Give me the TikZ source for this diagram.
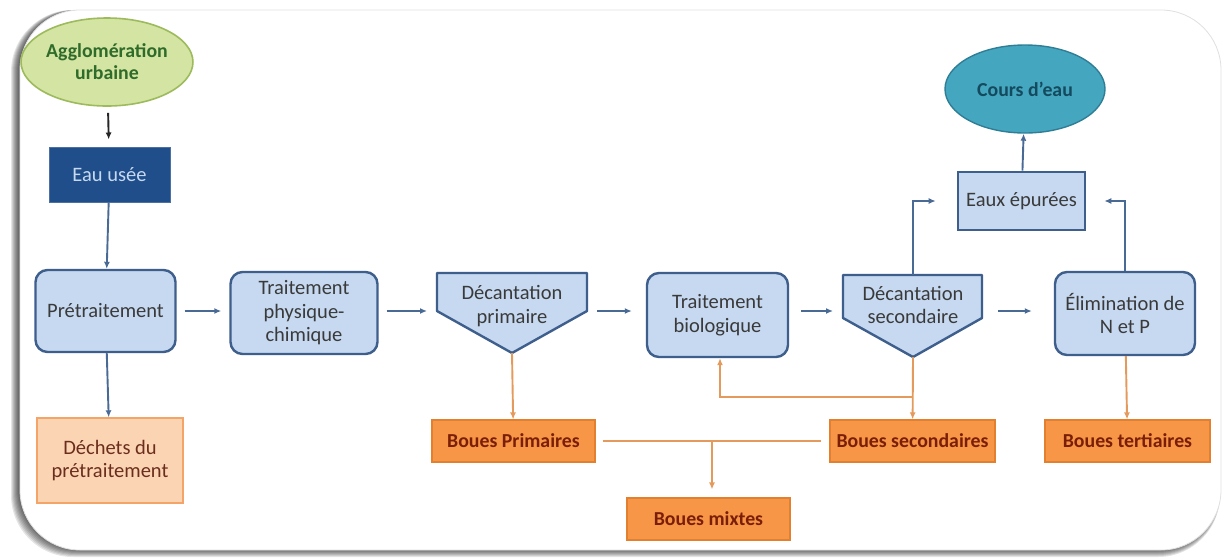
\documentclass[tikz,border=0pt]{standalone}
\usepackage{fontspec}
\setmainfont{Carlito}
\usetikzlibrary{arrows.meta,shapes.geometric,calc}
\definecolor{procfill}{HTML}{C6D9F1}
\definecolor{procdraw}{HTML}{3E5E8C}
\definecolor{txtgray}{HTML}{3A3A3A}
\definecolor{arrblue}{HTML}{4A6A96}
\definecolor{aggfill}{HTML}{D4E4A2}
\definecolor{aggdraw}{HTML}{9DBB5C}
\definecolor{aggtext}{HTML}{2F6B2A}
\definecolor{eaufill}{HTML}{1F4E8A}
\definecolor{coursfill}{HTML}{45A6C0}
\definecolor{coursdraw}{HTML}{2E7E96}
\definecolor{courstext}{HTML}{144A5E}
\definecolor{boufill}{HTML}{F79646}
\definecolor{boudraw}{HTML}{E2802F}
\definecolor{boutext}{HTML}{7A1E08}
\definecolor{orline}{HTML}{E49A5C}
\definecolor{dechfill}{HTML}{FBD4B4}
\definecolor{dechdraw}{HTML}{F5A468}
\definecolor{dechtext}{HTML}{6B2E1C}
\tikzset{
  txt/.style={font=\fontsize{20.5}{23.5}\selectfont, align=center},
  bld/.style={font=\fontsize{19.8}{22}\selectfont\bfseries},
  proc/.style={txt, rectangle, rounded corners=12pt, fill=procfill, draw=procdraw, line width=2.4pt, text=txtgray, inner sep=0pt},
  pentabox/.style={txt, rectangle, text=txtgray, inner sep=0pt},
  penta/.style={fill=procfill, draw=procdraw, line width=2.4pt, line join=round},
  boue/.style={txt, bld, rectangle, fill=boufill, draw=boudraw, line width=1.2pt, text=boutext, minimum width=163pt, minimum height=42pt, inner sep=0pt},
  arr/.style={draw=arrblue, line width=1.9pt, -{Latex[length=7pt,width=6pt]}},
  orarr/.style={draw=orline, line width=1.9pt, -{Latex[length=7pt,width=6pt]}},
  orln/.style={draw=orline, line width=1.9pt},
}
\begin{document}
\begin{tikzpicture}[x=1pt,y=-1pt]
\useasboundingbox (0,0) rectangle (1224,558);
% frame with shadow
\foreach \i in {0,...,7}{
  \fill[black, opacity=0.10, rounded corners=62pt] ({11+\i*1.0},10) rectangle (1220,{557-\i*1.0});
}
\fill[white, rounded corners=60pt] (20,10) rectangle (1221,550);
\draw[black!12, line width=0.8pt, rounded corners=60pt] (20,10) rectangle (1221,550);

% top left
\node[txt, bld, ellipse, minimum width=162pt, minimum height=88pt, fill=aggfill, draw=aggdraw, line width=1.6pt, text=aggtext, inner sep=0pt] (agg) at (107,62) {Agglomération\\urbaine};
\node[txt, rectangle, minimum width=121pt, minimum height=55pt, fill=eaufill, draw=eaufill!80!white, line width=1pt, text=procfill] (eau) at (109.5,174.5) {Eau usée};

% main row
\node[proc, minimum width=140pt, minimum height=82pt] (pre) at (105.5,311) {Prétraitement};
\node[proc, minimum width=147pt, minimum height=82pt] (tpc) at (304,313) {Traitement\\physique-\\chimique};

\draw[penta] (437,273) -- (587,273) -- (587,311) -- (512,353) -- (437,311) -- cycle;
\node[pentabox] (dp) at (512,306) {Décantation\\primaire};
\coordinate (dpW) at (437,311);
\coordinate (dpE) at (587,311);
\coordinate (dpTip) at (512,353);

\node[proc, minimum width=141pt, minimum height=84pt] (tb) at (717.5,315) {Traitement\\biologique};

\draw[penta] (843,275) -- (982,275) -- (982,318) -- (913,357) -- (843,318) -- cycle;
\node[pentabox] (ds) at (913,305) {Décantation\\secondaire};
\coordinate (dsW) at (843,311);
\coordinate (dsE) at (982,311);
\coordinate (dsTip) at (913,357);
\coordinate (dsTop) at (913,275);

\node[proc, minimum width=140pt, minimum height=83pt] (elim) at (1125,313.5) {Élimination de\\N et P};

% top right
\node[txt, rectangle, minimum width=127pt, minimum height=58pt, fill=procfill, draw=procdraw, line width=2.6pt, text=txtgray] (ee) at (1021.5,201) {Eaux épurées};
\node[txt, bld, ellipse, minimum width=160pt, minimum height=88pt, fill=coursfill, draw=coursdraw, line width=1.4pt, text=courstext, inner sep=0pt] (cours) at (1025,89) {Cours d'eau};

% sludge
\node[txt, rectangle, minimum width=146pt, minimum height=85pt, fill=dechfill, draw=dechdraw, line width=1.4pt, text=dechtext] (dech) at (110,460.5) {Déchets du\\prétraitement};
\node[boue] (bp) at (513.5,441) {Boues Primaires};
\node[boue, minimum width=165pt] (bs) at (912.5,441) {Boues secondaires};
\node[boue, minimum width=165pt] (bt) at (1127.5,441) {Boues tertiaires};
\node[boue] (bm) at (708.5,519) {Boues mixtes};

% connectors
\draw[black!85, line width=1.9pt, -{Latex[length=7pt,width=6pt]}, shorten <=6pt, shorten >=7pt] (agg) -- (eau);
\draw[arr] (eau) -- (pre);
\draw[arr] (pre) -- (dech);
\draw[arr, shorten <=8pt, shorten >=8pt] (pre) -- (pre -| tpc.west);
\draw[arr, shorten <=8pt, shorten >=10pt] (tpc.east |- dpW) -- (dpW);
\draw[arr, shorten <=10pt, shorten >=14pt] (dpE) -- (tb.west |- dpE);
\draw[arr, shorten <=12pt, shorten >=10pt] (tb.east |- dsW) -- (dsW);
\draw[arr, shorten <=16pt, shorten >=22pt] (dsE) -- (elim.west |- dsE);
\draw[arr, shorten >=21pt] (dsTop) |- (ee.west);
\draw[arr, shorten >=18pt] (elim.north) |- (ee.east);
\draw[arr] (ee) -- (cours);

\draw[orarr] (dpTip) -- (bp);
\draw[orarr] (dsTip) -- (bs);
\draw[orarr] (elim) -- (bt);
\coordinate (recirc) at (913,397);
\draw[orarr] (recirc) -| ([xshift=2.5pt]tb.south);
\draw[orln, shorten <=7pt, shorten >=8pt] (bp) -- (bs);
\coordinate (mix) at (712,441);
\draw[orarr, shorten >=8pt] (mix) -- (mix |- bm.north);
\end{tikzpicture}
\end{document}
